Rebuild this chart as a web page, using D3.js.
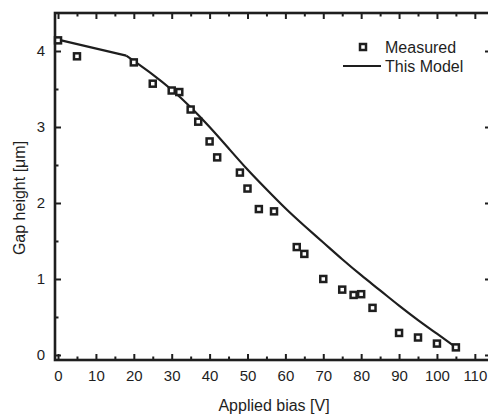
<!DOCTYPE html>
<html>
<head>
<meta charset="utf-8">
<script src="https://cdn.jsdelivr.net/npm/d3@7"></script>
<style>
  html, body { margin: 0; padding: 0; background: #fff; }
  svg { display: block; }
</style>
</head>
<body>
<svg id="chart" width="488" height="417"></svg>
<script>
// Measured data
const measuredBias = [0, 5, 20, 25, 30, 32, 35, 37, 40, 42, 48, 50, 53, 57, 63, 65, 70, 75, 78, 80, 83, 90, 95, 100, 105];
const measuredGap  = [4.14, 3.93, 3.85, 3.57, 3.48, 3.46, 3.23, 3.07, 2.81, 2.60, 2.40, 2.19, 1.92, 1.89, 1.42, 1.33, 1.00, 0.86, 0.79, 0.80, 0.62, 0.29, 0.23, 0.15, 0.10];

// Model curve (straight segment 0–18 V, then smooth curve)
const modelBias = [0, 18, 20, 25, 30, 35, 40, 45, 50, 55, 60, 65, 70, 75, 80, 85, 90, 95, 100, 105];
const modelGap  = [4.15, 3.94, 3.87, 3.69, 3.49, 3.26, 3.00, 2.72, 2.44, 2.18, 1.93, 1.70, 1.48, 1.26, 1.05, 0.85, 0.65, 0.46, 0.28, 0.10];

const xMajorTicks = [0, 10, 20, 30, 40, 50, 60, 70, 80, 90, 100, 110];
const xMinorTicks = [5, 15, 25, 35, 45, 55, 65, 75, 85, 95, 105];
const yMajorTicks = [0, 1, 2, 3, 4];
const yMinorTicks = [0.5, 1.5, 2.5, 3.5];

const xTitle = "Applied bias [V]";
const yTitle = "Gap height [\u03bcm]";
const legendLabels = ["Measured", "This Model"];

const FONT = "'Liberation Sans', Arial, Helvetica, sans-serif";
const INK = "#1e1e1e";

const L = 55, R = 490, T = 13, B = 360;
const svg = d3.select("#chart");

const x = d3.scaleLinear().domain([-0.8, 114]).range([L, R]);
const y = d3.scaleLinear().domain([-0.066, 4.5]).range([B, T]);

function styleAxis(g) {
  g.select(".domain").remove();
  g.selectAll(".tick line").attr("stroke", INK).attr("stroke-width", 2);
  g.selectAll(".tick text").attr("fill", INK).style("font-family", FONT).style("font-size", "15px");
}

// Bottom axis
svg.append("g").attr("transform", `translate(0,${B})`)
  .call(d3.axisBottom(x).tickValues(xMajorTicks).tickSizeInner(-6).tickSizeOuter(0).tickPadding(10).tickFormat(d3.format("d")))
  .call(styleAxis);
svg.append("g").attr("transform", `translate(0,${B})`)
  .call(d3.axisBottom(x).tickValues(xMinorTicks).tickSizeInner(-3.5).tickSizeOuter(0).tickFormat(""))
  .call(styleAxis);
// Top axis
svg.append("g").attr("transform", `translate(0,${T})`)
  .call(d3.axisTop(x).tickValues(xMajorTicks).tickSizeInner(-6).tickSizeOuter(0).tickFormat(""))
  .call(styleAxis);
svg.append("g").attr("transform", `translate(0,${T})`)
  .call(d3.axisTop(x).tickValues(xMinorTicks).tickSizeInner(-3.5).tickSizeOuter(0).tickFormat(""))
  .call(styleAxis);
// Left axis
svg.append("g").attr("transform", `translate(${L},0)`)
  .call(d3.axisLeft(y).tickValues(yMajorTicks).tickSizeInner(-6).tickSizeOuter(0).tickPadding(10).tickFormat(d3.format("d")))
  .call(styleAxis);
svg.append("g").attr("transform", `translate(${L},0)`)
  .call(d3.axisLeft(y).tickValues(yMinorTicks).tickSizeInner(-3.5).tickSizeOuter(0).tickFormat(""))
  .call(styleAxis);
// Right axis
svg.append("g").attr("transform", `translate(${R},0)`)
  .call(d3.axisRight(y).tickValues(yMajorTicks).tickSizeInner(-5).tickSizeOuter(0).tickFormat(""))
  .call(styleAxis);

// Frame
svg.append("rect").attr("x", L).attr("y", T).attr("width", R - L).attr("height", B - T)
  .attr("fill", "none").attr("stroke", INK).attr("stroke-width", 2.6);

// Model line: straight first segment, smooth remainder
const modelData = modelBias.map((b, i) => [b, modelGap[i]]);
const lineLin = d3.line().x(d => x(d[0])).y(d => y(d[1]));
const lineSmooth = d3.line().x(d => x(d[0])).y(d => y(d[1])).curve(d3.curveNatural);
const straightPart = modelData.filter(d => d[0] <= 18);
const smoothPart = modelData.filter(d => d[0] >= 18);
svg.append("path").datum(straightPart)
  .attr("fill", "none").attr("stroke", INK).attr("stroke-width", 2.2).attr("stroke-linejoin", "round")
  .attr("d", lineLin);
svg.append("path").datum(smoothPart)
  .attr("fill", "none").attr("stroke", INK).attr("stroke-width", 2.2).attr("stroke-linejoin", "round")
  .attr("d", lineSmooth);

// Measured points
const S = 6;
svg.append("g").selectAll("rect").data(measuredBias.map((b, i) => [b, measuredGap[i]]))
  .join("rect")
  .attr("x", d => x(d[0]) - S / 2).attr("y", d => y(d[1]) - S / 2)
  .attr("width", S).attr("height", S)
  .attr("fill", "#fff").attr("stroke", INK).attr("stroke-width", 2.5);

// Legend
const lg = svg.append("g");
lg.append("rect").attr("x", 363 - S / 2).attr("y", 47 - S / 2).attr("width", S).attr("height", S)
  .attr("fill", "#fff").attr("stroke", INK).attr("stroke-width", 2.5);
lg.append("text").attr("x", 385).attr("y", 53).text(legendLabels[0])
  .attr("fill", INK).style("font-family", FONT).style("font-size", "16px");
lg.append("line").attr("x1", 343).attr("x2", 381).attr("y1", 66).attr("y2", 66)
  .attr("stroke", INK).attr("stroke-width", 2.2);
lg.append("text").attr("x", 385).attr("y", 72).text(legendLabels[1])
  .attr("fill", INK).style("font-family", FONT).style("font-size", "16px");

// Axis titles
svg.append("text").attr("x", 274).attr("y", 411).attr("text-anchor", "middle")
  .text(xTitle).attr("fill", INK).style("font-family", FONT).style("font-size", "16px");
svg.append("text").attr("transform", "translate(25,198) rotate(-90)").attr("text-anchor", "middle")
  .text(yTitle).attr("fill", INK).style("font-family", FONT).style("font-size", "16px");
</script>
</body>
</html>
